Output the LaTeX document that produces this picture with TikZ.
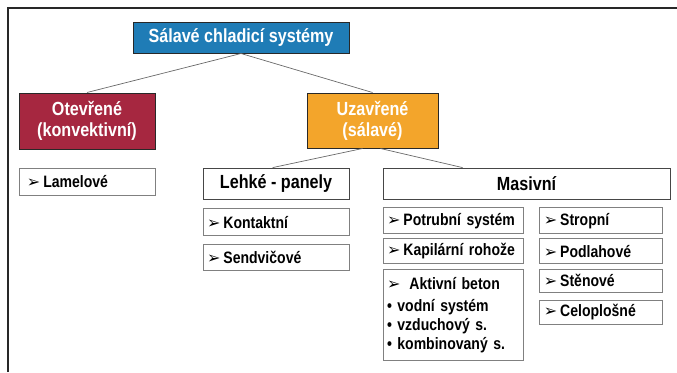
\documentclass[tikz,border=0pt]{standalone}
\usepackage{fontspec}
\setmainfont{Liberation Sans}[FakeStretch=0.85]
\newfontfamily\dingfont{DejaVu Sans}
\usetikzlibrary{positioning}
\definecolor{rootblue}{RGB}{31,124,182}
\definecolor{openred}{RGB}{166,39,64}
\definecolor{closedorange}{RGB}{243,165,43}
\definecolor{framegrey}{RGB}{40,40,40}
\definecolor{boxgrey}{RGB}{128,128,128}
\definecolor{headgrey}{RGB}{70,70,70}
\definecolor{linkgrey}{RGB}{105,105,105}
\newcommand{\pointer}{{\dingfont\fontsize{16}{16}\selectfont ➢}\hspace{3pt}}
\tikzset{
  topbox/.style={draw=framegrey,line width=1pt,text=white,align=center,
    font=\fontsize{19}{21}\selectfont\bfseries,inner sep=0pt},
  headbox/.style={draw=headgrey,line width=0.8pt,fill=white,
    font=\fontsize{19}{21}\selectfont\bfseries,inner sep=0pt},
  itembox/.style={draw=boxgrey,line width=0.8pt,fill=white,align=left,
    font=\fontsize{16.5}{19}\selectfont\bfseries,inner xsep=4pt,inner ysep=0pt},
  link/.style={draw=linkgrey,line width=0.7pt},
  frameline/.style={draw=framegrey,line width=1.2pt}
}
\begin{document}
\begin{tikzpicture}[x=1pt,y=-1pt]
  \useasboundingbox (0,0) rectangle (677,372);
  \draw[frameline] (8,372) -- (8,8) -- (677,8);
  % top levels
  \node[topbox,fill=rootblue,minimum width=216pt,minimum height=31pt] (root) at (241,37.5) {Sálavé chladicí systémy};
  \node[topbox,fill=openred,minimum width=136pt,minimum height=56pt] (otevrene) at (87,121) {Otevřené\\(konvektivní)};
  \node[topbox,fill=closedorange,minimum width=131pt,minimum height=55pt] (uzavrene) at (372.5,120.5) {Uzavřené\\(sálavé)};
  \node[headbox,minimum width=146pt,minimum height=31pt] (lehke) at (276,183.5) {Lehké - panely};
  \node[headbox,minimum width=287pt,minimum height=31pt] (masivni) at (526.5,183.5) {Masivní};
  \draw[link] (root.south) -- (otevrene.north);
  \draw[link] (root.south) -- (uzavrene.north);
  \draw[link] ([xshift=-10pt]uzavrene.south) -- ([xshift=70pt]lehke.north west);
  \draw[link] ([xshift=8pt]uzavrene.south) -- ([xshift=80pt]masivni.north west);
  % items
  \node[itembox,inner xsep=8pt,text width=120pt,minimum height=27pt,below=18pt of otevrene.south west,anchor=north west] (lamelove) {\pointer Lamelové};
  \node[itembox,text width=138pt,minimum height=27pt,below=9pt of lehke.south west,anchor=north west] (kontaktni) {\pointer Kontaktní};
  \node[itembox,text width=138pt,minimum height=26pt,below=8pt of kontaktni.south west,anchor=north west] (sendvicove) {\pointer Sendvičové};
  \node[itembox,text width=132pt,minimum height=26pt,below=8pt of masivni.south west,anchor=north west] (potrubni) {\pointer Potrubní systém};
  \node[itembox,text width=132pt,minimum height=25pt,below=4pt of potrubni.south west,anchor=north west] (kapilarni) {\pointer Kapilární rohože};
  \node[itembox,text width=132pt,minimum height=91pt,below=5pt of kapilarni.south west,anchor=north west] (aktivni) {\pointer\hspace{6pt}Aktivní beton\\[3pt]
    \textbullet\ vodní systém\\
    \textbullet\ vzduchový s.\\
    \textbullet\ kombinovaný s.};
  \node[itembox,text width=115pt,minimum height=26pt,right=16pt of potrubni] (stropni) {\pointer Stropní};
  \node[itembox,text width=115pt,minimum height=25pt,below=4pt of stropni.south west,anchor=north west] (podlahove) {\pointer Podlahové};
  \node[itembox,text width=115pt,minimum height=23pt,below=5pt of podlahove.south west,anchor=north west] (stenove) {\pointer Stěnové};
  \node[itembox,text width=115pt,minimum height=24pt,below=7pt of stenove.south west,anchor=north west] (celoplosne) {\pointer Celoplošné};
\end{tikzpicture}
\end{document}
